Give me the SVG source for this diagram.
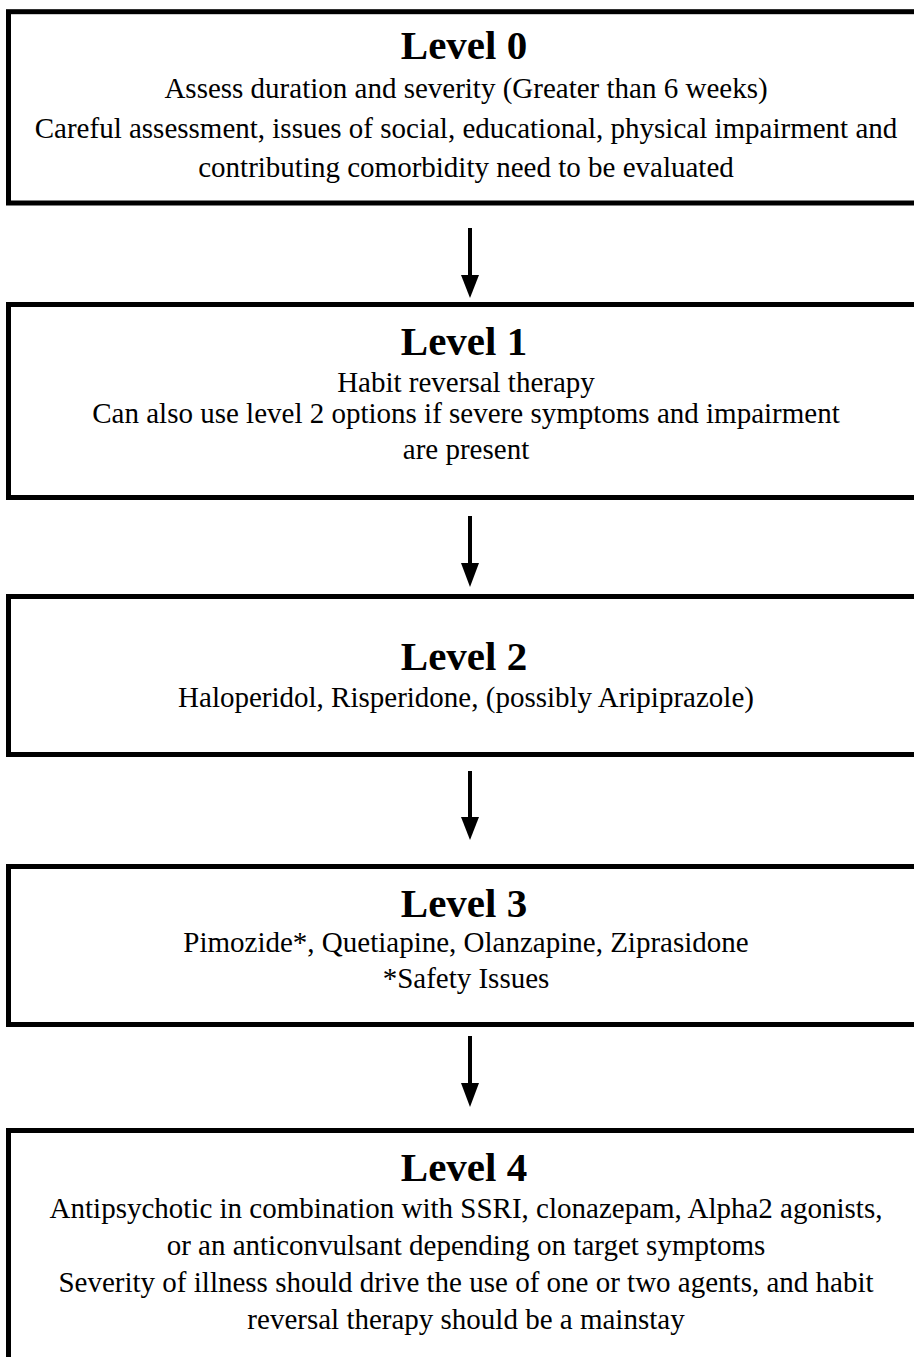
<svg xmlns="http://www.w3.org/2000/svg" width="914" height="1357" viewBox="0 0 914 1357">
<defs>
<style>
.box{fill:#fff;stroke:#000;stroke-width:5}
.t{font-family:"Liberation Serif","Times New Roman",serif;font-weight:bold;font-size:41px;text-anchor:middle;fill:#000}
.b{font-family:"Liberation Serif","Times New Roman",serif;font-size:29px;text-anchor:middle;fill:#000}
.c{stroke:#000;stroke-width:4;fill:none}
.h{fill:#000}
</style>
</defs>
<rect width="914" height="1357" fill="#fff"/>
<g id="level0">
<rect class="box" x="8.5" y="11.7" width="930" height="191.3"/>
<text class="t" x="464" y="59">Level 0</text>
<text class="b" x="466" y="98">Assess duration and severity (Greater than 6 weeks)</text>
<text class="b" x="466" y="138">Careful assessment, issues of social, educational, physical impairment and</text>
<text class="b" x="466" y="177">contributing comorbidity need to be evaluated</text>
</g>
<g id="level1">
<rect class="box" x="8.5" y="304.5" width="930" height="193"/>
<text class="t" x="464" y="355">Level 1</text>
<text class="b" x="466" y="391.5">Habit reversal therapy</text>
<text class="b" x="466" y="422.5">Can also use level 2 options if severe symptoms and impairment</text>
<text class="b" x="466" y="458.5">are present</text>
</g>
<g id="level2">
<rect class="box" x="8.5" y="596.5" width="930" height="158"/>
<text class="t" x="464" y="669.5">Level 2</text>
<text class="b" x="466" y="706.5">Haloperidol, Risperidone, (possibly Aripiprazole)</text>
</g>
<g id="level3">
<rect class="box" x="8.5" y="866.5" width="930" height="158"/>
<text class="t" x="464" y="916.5">Level 3</text>
<text class="b" x="466" y="951.5">Pimozide*, Quetiapine, Olanzapine, Ziprasidone</text>
<text class="b" x="466" y="987.5">*Safety Issues</text>
</g>
<g id="level4">
<rect class="box" x="8.5" y="1130.5" width="930" height="300"/>
<text class="t" x="464" y="1180.5">Level 4</text>
<text class="b" x="466" y="1217.5">Antipsychotic in combination with SSRI, clonazepam, Alpha2 agonists,</text>
<text class="b" x="466" y="1254.5">or an anticonvulsant depending on target symptoms</text>
<text class="b" x="466" y="1291.5">Severity of illness should drive the use of one or two agents, and habit</text>
<text class="b" x="466" y="1328.5">reversal therapy should be a mainstay</text>
</g>
<g id="connectors">
<path class="c" d="M470,228 V276"/>
<path class="h" d="M461,275 H479 L470,298 Z"/>
<path class="c" d="M470,516 V564"/>
<path class="h" d="M461,563 H479 L470,587 Z"/>
<path class="c" d="M470,771 V818"/>
<path class="h" d="M461,817 H479 L470,840 Z"/>
<path class="c" d="M470,1036 V1084"/>
<path class="h" d="M461,1083 H479 L470,1107 Z"/>
</g>
</svg>
